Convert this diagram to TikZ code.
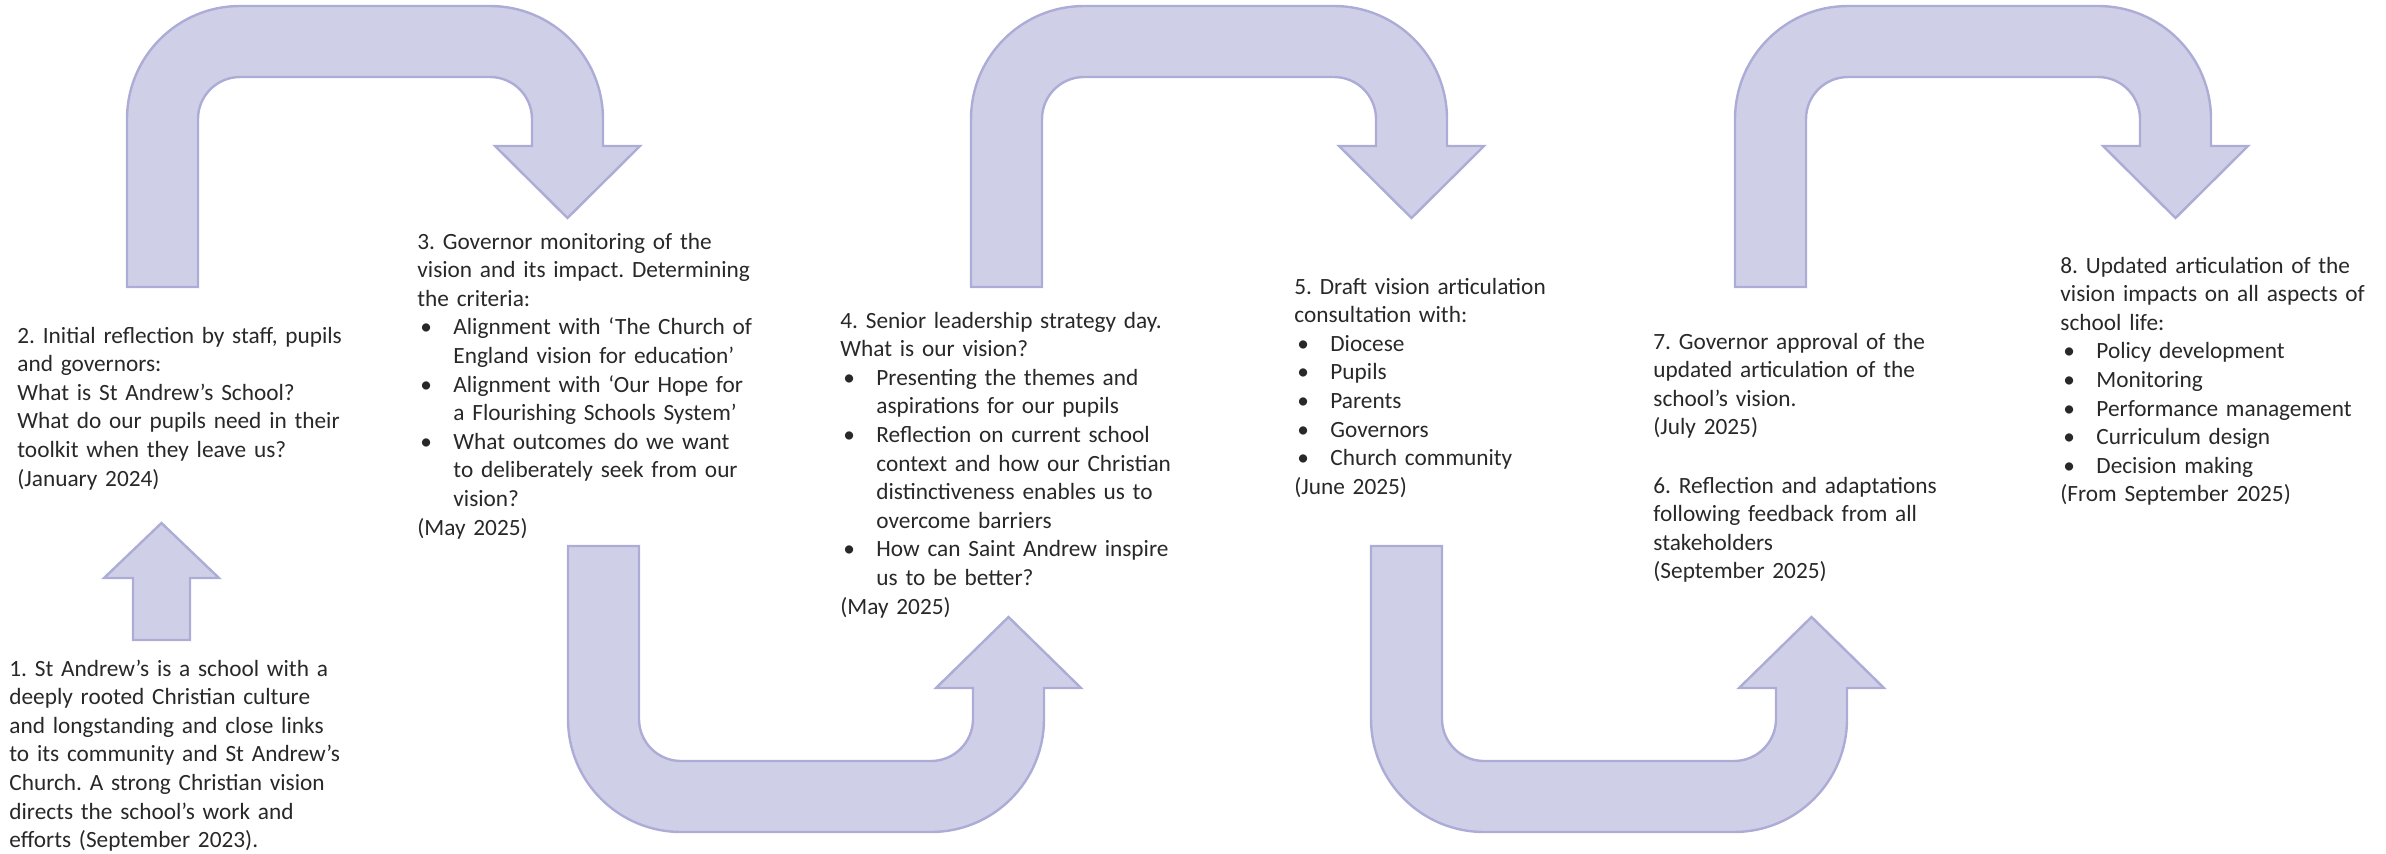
\documentclass[tikz,border=0pt]{standalone}
\usepackage{fontspec}
\setmainfont{Carlito}
\frenchspacing
\definecolor{arrowfill}{RGB}{207,208,231}
\definecolor{arrowline}{RGB}{172,172,214}
\definecolor{textgrey}{RGB}{40,40,40}
\newcommand{\bul}{\makebox[18pt][l]{\hspace{1.5pt}•}}
\newcommand{\cont}{\hspace*{18pt}}

\begin{document}
\begin{tikzpicture}[x=0.5pt, y=-0.5pt,
    stage/.style={anchor=base west, inner sep=0pt, text width=200pt, align=left,
        text=textgrey, font=\fontsize{11.65pt}{14.3pt}\selectfont},
    blockarrow/.style={fill=arrowfill, draw=arrowline, line width=1.2pt}]
    \useasboundingbox (0,0) rectangle (2386,853);

    % Define stages
    \node[stage] (S1) at (9,676) {1. St Andrew’s is a school with a\\ deeply rooted Christian culture\\ and longstanding and close links\\ to its community and St Andrew’s\\ Church. A strong Christian vision\\ directs the school’s work and\\ efforts (September 2023).};
    \node[stage] (S2) at (17,343) {2. Initial reflection by staff, pupils\\ and governors:\\ What is St Andrew’s School?\\ What do our pupils need in their\\ toolkit when they leave us?\\ (January 2024)};
    \node[stage] (S3) at (417,249) {3. Governor monitoring of the\\ vision and its impact. Determining\\ the criteria:\\ \bul Alignment with ‘The Church of\\ \cont England vision for education’\\ \bul Alignment with ‘Our Hope for\\ \cont a Flourishing Schools System’\\ \bul What outcomes do we want\\ \cont to deliberately seek from our\\ \cont vision?\\ (May 2025)};
    \node[stage] (S4) at (840,328) {4. Senior leadership strategy day.\\ What is our vision?\\ \bul Presenting the themes and\\ \cont aspirations for our pupils\\ \bul Reflection on current school\\ \cont context and how our Christian\\ \cont distinctiveness enables us to\\ \cont overcome barriers\\ \bul How can Saint Andrew inspire\\ \cont us to be better?\\ (May 2025)};
    \node[stage] (S5) at (1294,294) {5. Draft vision articulation\\ consultation with:\\ \bul Diocese\\ \bul Pupils\\ \bul Parents\\ \bul Governors\\ \bul Church community\\ (June 2025)};
    \node[stage] (S7) at (1653,349) {7. Governor approval of the\\ updated articulation of the\\ school’s vision.\\ (July 2025)};
    \node[stage] (S6) at (1653,493) {6. Reflection and adaptations\\ following feedback from all\\ stakeholders\\ (September 2025)};
    \node[stage] (S8) at (2060,273) {8. Updated articulation of the\\ vision impacts on all aspects of\\ school life:\\ \bul Policy development\\ \bul Monitoring\\ \bul Performance management\\ \bul Curriculum design\\ \bul Decision making\\ (From September 2025)};

    % Up arrow from 1 to 2
    \draw[blockarrow] (133,640) -- (133,578) -- (104,578) -- (161.5,523) -- (219,578) -- (190,578) -- (190,640) -- cycle;

    % Bent arrows over the top
    \draw[blockarrow] (127,287) -- ++(0,-168) arc[start angle=180, end angle=270, radius=113] -- ++(250,0) arc[start angle=270, end angle=360, radius=113] -- ++(0,27) -- ++(37,0) -- ++(-72.5,72) -- ++(-72.5,-72) -- ++(37,0) -- ++(0,-27) arc[start angle=0, end angle=-90, radius=42] -- ++(-250,0) arc[start angle=-90, end angle=-180, radius=42] -- ++(0,168) -- cycle;
    \draw[blockarrow] (971,287) -- ++(0,-168) arc[start angle=180, end angle=270, radius=113] -- ++(250,0) arc[start angle=270, end angle=360, radius=113] -- ++(0,27) -- ++(37,0) -- ++(-72.5,72) -- ++(-72.5,-72) -- ++(37,0) -- ++(0,-27) arc[start angle=0, end angle=-90, radius=42] -- ++(-250,0) arc[start angle=-90, end angle=-180, radius=42] -- ++(0,168) -- cycle;
    \draw[blockarrow] (1735,287) -- ++(0,-168) arc[start angle=180, end angle=270, radius=113] -- ++(250,0) arc[start angle=270, end angle=360, radius=113] -- ++(0,27) -- ++(37,0) -- ++(-72.5,72) -- ++(-72.5,-72) -- ++(37,0) -- ++(0,-27) arc[start angle=0, end angle=-90, radius=42] -- ++(-250,0) arc[start angle=-90, end angle=-180, radius=42] -- ++(0,168) -- cycle;

    % U-turn arrows along the bottom
    \draw[blockarrow] (568,546) -- ++(0,173) arc[start angle=180, end angle=90, radius=113] -- ++(250,0) arc[start angle=90, end angle=0, radius=113] -- ++(0,-31) -- ++(37,0) -- ++(-72.5,-71) -- ++(-72.5,71) -- ++(37,0) -- ++(0,31) arc[start angle=0, end angle=90, radius=42] -- ++(-250,0) arc[start angle=90, end angle=180, radius=42] -- ++(0,-173) -- cycle;
    \draw[blockarrow] (1371,546) -- ++(0,173) arc[start angle=180, end angle=90, radius=113] -- ++(250,0) arc[start angle=90, end angle=0, radius=113] -- ++(0,-31) -- ++(37,0) -- ++(-72.5,-71) -- ++(-72.5,71) -- ++(37,0) -- ++(0,31) arc[start angle=0, end angle=90, radius=42] -- ++(-250,0) arc[start angle=90, end angle=180, radius=42] -- ++(0,-173) -- cycle;

\end{tikzpicture}
\end{document}
